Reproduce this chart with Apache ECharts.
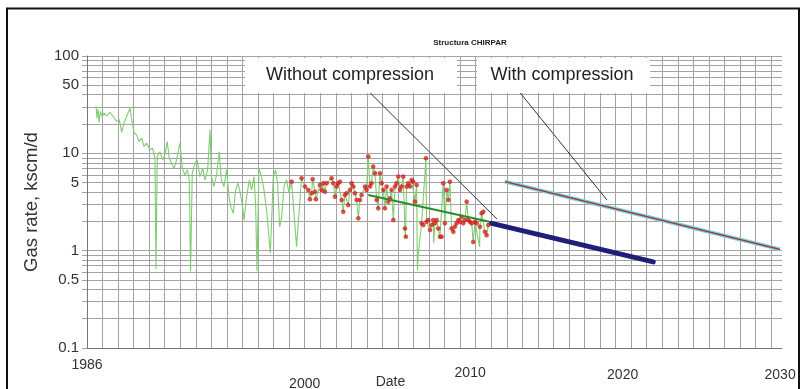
<!DOCTYPE html>
<html>
<head>
<meta charset="utf-8">
<script src="https://cdn.jsdelivr.net/npm/echarts@6/dist/echarts.min.js"></script>
<style>
  html, body { margin: 0; padding: 0; background: #fff; }
  #chart { width: 808px; height: 389px; }
</style>
</head>
<body>
<div id="chart"></div>
<script>
// production history before the measured points, [year, kscm/d]
const historyEarly = [
  [1986.58, 30.4], [1986.65, 23], [1986.71, 28.5], [1986.78, 20.8], [1986.86, 27], [1986.97, 24],
  [1987.10, 25.9], [1987.27, 24.3], [1987.48, 26.3], [1987.69, 23.9], [1987.91, 21.3], [1988.08, 22.1],
  [1988.23, 16.4], [1988.38, 20.5], [1988.55, 23.9], [1988.77, 29.2], [1988.91, 20.5], [1989.04, 16.1],
  [1989.19, 15.5], [1989.34, 13.2], [1989.52, 14.3], [1989.67, 11.8], [1989.84, 12.7], [1990.05, 10.9],
  [1990.22, 11.3], [1990.37, 8.9], [1990.44, 0.65], [1990.52, 9.27], [1990.69, 10.4], [1990.86, 8.57],
  [1991.01, 9.6], [1991.16, 13.2], [1991.29, 8.9], [1991.44, 7.92], [1991.61, 7.0], [1991.76, 8.57],
  [1991.98, 12.7], [1992.13, 7.0], [1992.30, 6.0], [1992.45, 6.76], [1992.58, 5.33], [1992.66, 0.61],
  [1992.77, 6.25], [1992.94, 7.92], [1993.09, 8.57], [1993.26, 5.77], [1993.44, 7.0], [1993.59, 5.33],
  [1993.76, 6.76], [1993.91, 17.5], [1994.01, 5.77], [1994.16, 4.55], [1994.33, 6.0], [1994.51, 10.4],
  [1994.64, 5.33], [1994.81, 4.55], [1994.98, 6.76], [1995.13, 3.59], [1995.26, 2.8], [1995.41, 2.42],
  [1995.56, 4.21], [1995.71, 4.93], [1995.86, 3.89], [1996.01, 2.8], [1996.10, 2.06], [1996.27, 3.59],
  [1996.44, 5.33], [1996.59, 4.21], [1996.74, 5.77], [1996.85, 2.8], [1996.93, 0.62], [1997.06, 7.0],
  [1997.23, 5.77], [1997.38, 4.21], [1997.55, 2.6], [1997.70, 1.39], [1997.79, 0.94], [1997.87, 1.9],
  [1997.98, 5.77], [1998.13, 6.76], [1998.26, 4.93], [1998.39, 1.76], [1998.52, 2.2], [1998.67, 4.55],
  [1998.84, 5.33], [1998.99, 3.89]
]

// measured points (red)
const measuredYears = [
  1999.16, 1999.80, 2000.02, 2000.23, 2000.34, 2000.45, 2000.51, 2000.66, 2000.72, 2000.98,
  2001.09, 2001.20, 2001.30, 2001.41, 2001.73, 2001.84, 2001.95, 2002.05, 2002.16, 2002.27,
  2002.38, 2002.48, 2002.59, 2002.70, 2002.80, 2002.91, 2003.02, 2003.13, 2003.23, 2003.34,
  2003.45, 2003.55, 2003.66, 2003.88, 2003.98, 2004.09, 2004.20, 2004.30, 2004.41, 2004.52,
  2004.63, 2004.73, 2004.84, 2004.95, 2005.06, 2005.16, 2005.27, 2005.38, 2005.48, 2005.59,
  2005.70, 2005.81, 2005.91, 2006.02, 2006.13, 2006.23, 2006.34, 2006.45, 2006.51, 2006.56,
  2006.66, 2006.77, 2006.88, 2006.98, 2007.09, 2007.20, 2007.52, 2007.63, 2007.80, 2007.84,
  2007.95, 2008.06, 2008.16, 2008.27, 2008.38, 2008.49, 2008.59, 2008.70, 2008.81, 2008.91,
  2009.02, 2009.13, 2009.24, 2009.34, 2009.45, 2009.56, 2009.66, 2009.77, 2009.88, 2009.99,
  2010.09, 2010.20, 2010.31, 2010.42, 2010.52, 2010.63, 2010.74, 2010.84, 2010.95, 2011.06,
  2011.27, 2011.38, 2011.49, 2011.59, 2011.70, 2011.81
]
const measuredRates = [
  5.12, 5.55, 4.55, 4.21, 3.37, 3.89, 5.42, 4.04, 3.37, 4.73,
  4.21, 4.93, 4.04, 4.93, 5.55, 4.93, 3.59, 4.55, 4.93, 5.12,
  3.32, 2.51, 3.73, 3.89, 2.94, 4.21, 4.93, 4.55, 3.89, 3.32,
  2.15, 3.32, 3.73, 4.55, 4.21, 9.27, 4.55, 4.93, 7.31, 6.25,
  3.32, 2.72, 6.25, 4.93, 4.21, 2.72, 4.55, 3.19, 3.45, 4.21,
  2.06, 4.55, 4.93, 5.77, 4.21, 4.55, 5.77, 1.69, 1.39, 4.55,
  4.93, 4.55, 5.33, 5.12, 3.19, 4.73, 1.91, 1.83, 8.92, 1.98,
  2.06, 1.63, 1.83, 2.06, 1.91, 2.06, 1.69, 1.39, 1.39, 4.93,
  1.91, 4.21, 3.32, 5.12, 1.69, 1.56, 1.76, 1.91, 2.06, 1.98,
  2.23, 1.91, 2.06, 3.19, 2.06, 1.98, 1.91, 1.23, 1.98, 1.91,
  1.76, 2.42, 2.51, 1.56, 1.44, 1.83
]
// dips of the green line between measured points
const historyDips = [[1999.48, 1.1], [2006.48, 1.35], [2007.25, 0.63], [2007.3, 0.9], [2008.3, 1.2], [2011.25, 1.1]]

const trendLine = [[2004.09, 3.73], [2012.1, 1.95]]
const withoutCompression = [[2012.03, 1.91], [2022.42, 0.766]]
const withCompression = [[2012.88, 5.12], [2030.57, 1.03]]

const xLabels = [1986, 2000, 2010, 2020, 2030]
const yLabels = [0.1, 0.5, 1, 5, 10, 50, 100]

const measured = measuredYears.map((y, i) => [y, measuredRates[i]])
const history = historyEarly.concat(measured, historyDips).sort((a, b) => a[0] - b[0])

const chart = echarts.init(document.getElementById('chart'))
const font = 'Liberation Sans, Arial, sans-serif'
const gridColor = '#a3a3a3'
const labelText = { fontSize: 14, color: '#333' }

const option = {
  backgroundColor: '#fff',
  animation: false,
  textStyle: { fontFamily: font },
  grid: { left: 87, top: 56, right: 26, bottom: 41, outerBoundsMode: 'none', containLabel: false },
  xAxis: {
    type: 'value',
    min: 1986,
    max: 2030.7,
    interval: 1,
    name: 'Date',
    nameLocation: 'middle',
    nameGap: 27,
    nameMoveOverlap: false,
    nameTextStyle: { fontSize: 14, color: '#333', padding: [0, 88, 0, 0] },
    axisLine: { show: true, lineStyle: { color: '#777' } },
    axisTick: { show: false },
    axisLabel: {
      customValues: xLabels,
      fontSize: 14,
      color: '#333',
      margin: 10,
      formatter: function (v) {
        if (v === 1986) return String(v)
        return '{y' + v + '|' + v + '}'
      },
      rich: {
        y2000: Object.assign({ padding: [19, 0, 0, 0] }, labelText),
        y2010: Object.assign({ padding: [8, 0, 0, 20] }, labelText),
        y2020: Object.assign({ padding: [10, 0, 0, 14] }, labelText),
        y2030: Object.assign({ padding: [10, 0, 0, 18] }, labelText)
      }
    },
    splitLine: { show: true, showMaxLine: false, lineStyle: { color: gridColor, width: 1 } }
  },
  yAxis: {
    type: 'log',
    logBase: 10,
    min: 0.1,
    max: 100,
    name: 'Gas rate, kscm/d',
    nameLocation: 'middle',
    nameGap: 46,
    nameTextStyle: { fontSize: 18.5, color: '#333' },
    axisLine: { show: true, lineStyle: { color: '#777' } },
    axisTick: { show: true, length: 5, lineStyle: { color: gridColor } },
    minorTick: { show: true, splitNumber: 9, length: 5, lineStyle: { color: gridColor } },
    axisLabel: { customValues: yLabels, fontSize: 15, color: '#333', margin: 8 },
    splitLine: { show: true, lineStyle: { color: gridColor, width: 1 } },
    minorSplitLine: { show: true, lineStyle: { color: gridColor, width: 1 } }
  },
  series: [
    {
      name: 'history',
      type: 'line',
      data: history,
      showSymbol: false,
      lineStyle: { color: '#7fcd70', width: 1.1 },
      z: 2,
      markLine: {
        silent: true,
        symbol: 'none',
        lineStyle: { color: '#333', width: 1, type: 'solid' },
        label: { show: false },
        data: [
          [{ coord: [2004.2, 42] }, { coord: [2012.37, 2.11] }],
          [{ coord: [2013.85, 42] }, { coord: [2019.44, 3.32] }]
        ]
      }
    },
    {
      name: 'measured',
      type: 'scatter',
      data: measured,
      symbol: 'circle',
      symbolSize: 4,
      itemStyle: { color: '#e3231b', borderColor: '#b01010', borderWidth: 0.5 },
      z: 3
    },
    {
      name: 'trend',
      type: 'line',
      data: trendLine,
      showSymbol: false,
      lineStyle: { color: '#2b8a2b', width: 2 },
      z: 4
    },
    {
      name: 'Without compression',
      type: 'line',
      data: withoutCompression,
      showSymbol: false,
      lineStyle: { color: '#1f1f78', width: 5, cap: 'round' },
      z: 5
    },
    {
      name: 'With compression glow',
      type: 'line',
      data: withCompression,
      showSymbol: false,
      lineStyle: { color: '#6fd5de', width: 4 },
      z: 5
    },
    {
      name: 'With compression',
      type: 'line',
      data: withCompression,
      showSymbol: false,
      lineStyle: { color: '#b5282c', width: 1.3 },
      z: 6
    }
  ],
  graphic: [
    {
      type: 'rect',
      z: 100,
      shape: { x: 7, y: 8.5, width: 792, height: 400 },
      style: { fill: 'none', stroke: '#111', lineWidth: 2 }
    },
    {
      type: 'text',
      z: 100,
      x: 470,
      y: 43,
      style: { text: 'Structura CHIRPAR', fill: '#222', align: 'center', verticalAlign: 'middle', font: 'bold 8px ' + font }
    },
    {
      type: 'rect',
      z: 100,
      shape: { x: 245, y: 58, width: 212, height: 35 },
      style: { fill: '#fff' }
    },
    {
      type: 'text',
      z: 101,
      x: 350,
      y: 75,
      style: { text: 'Without compression', font: '18px ' + font, fill: '#222', align: 'center', verticalAlign: 'middle' }
    },
    {
      type: 'rect',
      z: 100,
      shape: { x: 477, y: 58, width: 173, height: 35 },
      style: { fill: '#fff' }
    },
    {
      type: 'text',
      z: 101,
      x: 562,
      y: 75,
      style: { text: 'With compression', font: '18px ' + font, fill: '#222', align: 'center', verticalAlign: 'middle' }
    }
  ]
}

chart.setOption(option)
</script>
</body>
</html>
